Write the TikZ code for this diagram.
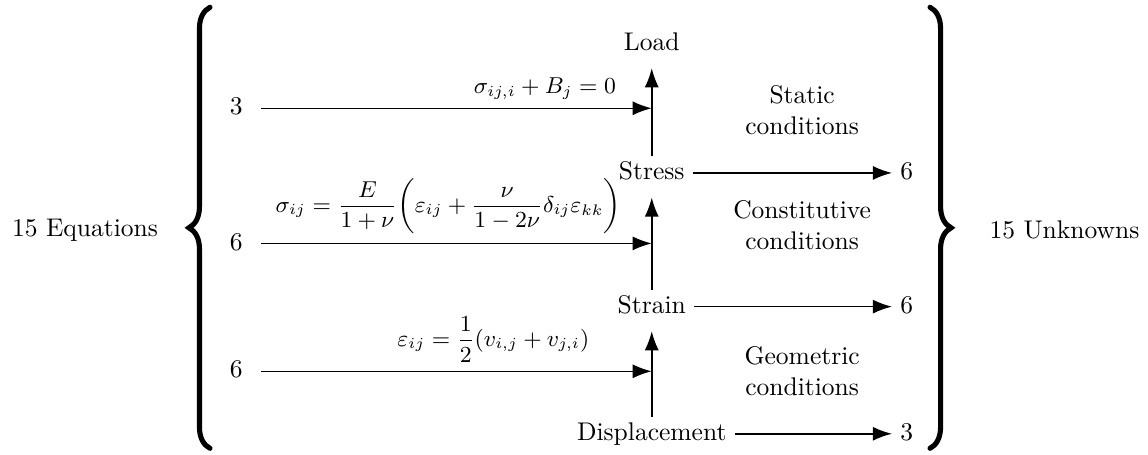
\documentclass[tikz,border=0pt]{standalone}
\usepackage{amsmath}
\usetikzlibrary{arrows.meta,decorations.pathreplacing}

\begin{document}
\begin{tikzpicture}[>={Latex[length=7.5pt,width=5.5pt]}, line width=0.6pt,
    word/.style={inner xsep=3pt, inner ysep=2pt, text height=1.6ex, text depth=0.4ex},
    law/.style={above, font=\small},
    cond/.style={align=center},
    bigbrace/.style={decorate, decoration={brace, amplitude=0.29cm}, line width=2pt, line cap=round}]
    % Khung hình
    \useasboundingbox (0,0) rectangle (15.80,6.25);

    % 1. Các đại lượng ở cột giữa
    \node[word] (load)   at (8.97,5.65) {Load};
    \node[word] (stress) at (8.97,3.87) {Stress};
    \node[word] (strain) at (8.97,2.03) {Strain};
    \node[word] (displ)  at (8.97,0.28) {Displacement};

    % 2. Mũi tên đi lên
    \draw[->, shorten >=3pt] (stress) -- (load);
    \draw[->, shorten >=3pt] (strain) -- (stress);
    \draw[->, shorten >=3pt] (displ) -- (strain);

    % 3. Số phương trình bên trái
    \node[word] (eqA) at (3.25,4.76) {3};
    \node[word] (eqB) at (3.25,2.90) {6};
    \node[word] (eqC) at (3.25,1.14) {6};

    \draw[->, shorten <=4pt] (eqA) -- (eqA -| stress);
    \draw[->, shorten <=4pt] (eqB) -- (eqB -| stress);
    \draw[->, shorten <=4pt] (eqC) -- (eqC -| stress);

    % 4. Các phương trình
    \node[law] (lawA) at (7.50,4.76) {$\sigma_{ij,i}+B_j=0$};
    \node[law] (lawB) at (6.17,2.90)
        {$\displaystyle\sigma_{ij}=\frac{E}{1+\nu}\biggl(\varepsilon_{ij}+\frac{\nu}{1-2\nu}\delta_{ij}\varepsilon_{kk}\biggr)$};
    \node[law] (lawC) at (6.79,1.14)
        {$\displaystyle\varepsilon_{ij}=\frac{1}{2}(v_{i,j}+v_{j,i})$};

    % 5. Số ẩn bên phải
    \node[word] (unA) at (12.48,3.87) {6};
    \node[word] (unB) at (12.48,2.03) {6};
    \node[word] (unC) at (12.48,0.28) {3};

    \draw[->] (stress) -- (unA);
    \draw[->] (strain) -- (unB);
    \draw[->] (displ) -- (unC);

    % 6. Tên các điều kiện
    \node[cond] (static) at (11.04,4.73) {Static\\conditions};
    \node[cond] (consti) at (11.04,3.15) {Constitutive\\conditions};
    \node[cond] (geom)   at (11.04,1.14) {Geometric\\conditions};

    % 7. Dấu ngoặc nhọn và nhãn
    \draw[bigbrace] (2.89,0.08) -- (2.89,6.15);
    \draw[bigbrace] (12.80,6.15) -- (12.80,0.08);

    \node (equations) at (1.17,3.08) {15 Equations};
    \node (unknowns)  at (14.65,3.08) {15 Unknowns};

\end{tikzpicture}
\end{document}
